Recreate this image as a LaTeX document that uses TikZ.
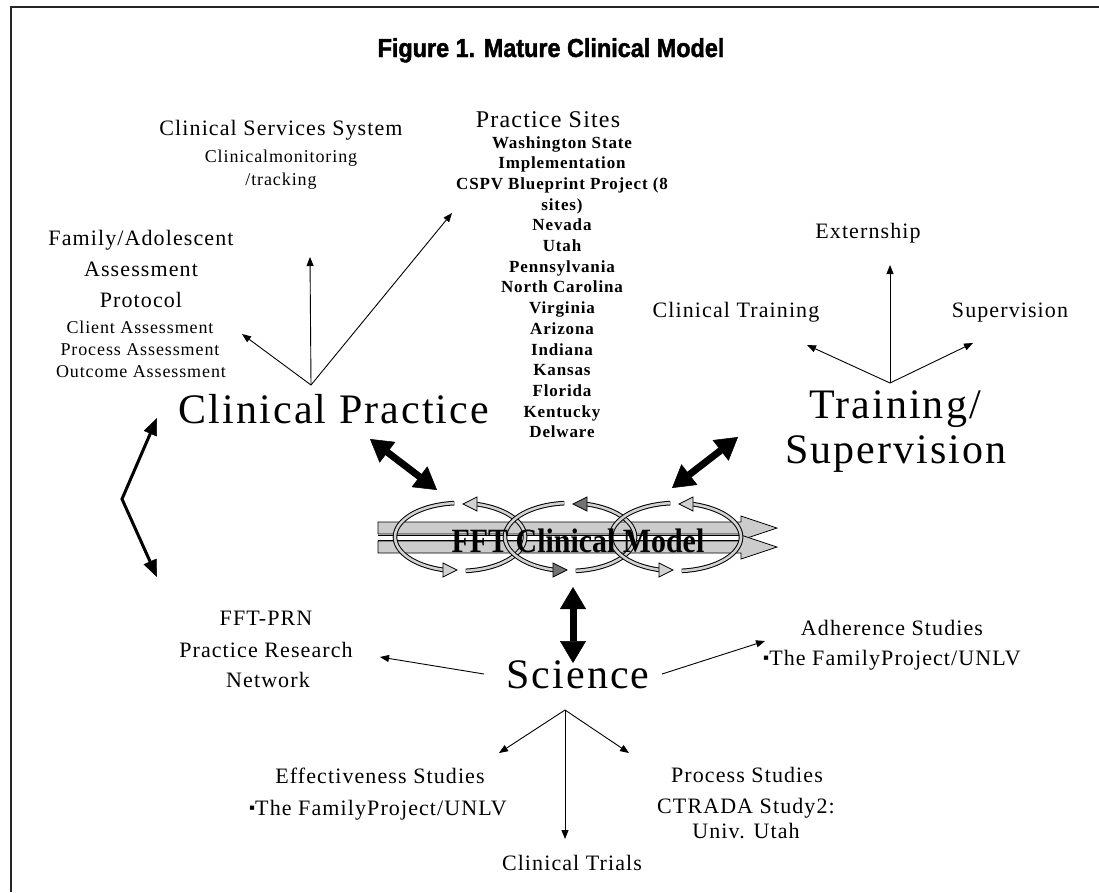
\documentclass[tikz,border=0pt]{standalone}
\usepackage{fontspec}
\setmainfont{Liberation Serif}
\newfontfamily\tf{Liberation Serif}[LetterSpace=5]
\newfontfamily\mf{Liberation Serif}[FakeStretch=0.88]
\newfontfamily\hf{Liberation Sans}[FakeBold=1.6,FakeStretch=0.9]
\usetikzlibrary{arrows.meta}
\newcommand\cyc[3]{%
  \draw[line width=2.6pt, draw=#2, preaction={draw=black,line width=4.6pt}]
    plot[domain=-95:-255,samples=40] ({#1+65*cos(\x)},{537+34*sin(\x)});
  \draw[line width=2.6pt, draw=#2, preaction={draw=black,line width=4.6pt}]
    plot[domain=85:-77,samples=40] ({#1+65*cos(\x)},{537+34*sin(\x)});
  \filldraw[fill=#3, draw=black, line width=0.8pt, line join=miter]
    (#1-17,563) -- (#1-3,570) -- (#1-17,577) -- cycle;
  \filldraw[fill=#3, draw=black, line width=0.8pt, line join=miter]
    (#1+17,497) -- (#1+3,504) -- (#1+17,511) -- cycle;
}
\newcommand\sqb{\raisebox{2pt}{\fontsize{17}{17}\selectfont▪}}
\begin{document}
\begin{tikzpicture}[x=1pt,y=-1pt,
  lab/.style={anchor=base,inner sep=0pt,font=\tf\fontsize{22}{26}\selectfont},
  sm/.style={anchor=base,inner sep=0pt,font=\tf\fontsize{18}{20}\selectfont},
  smb/.style={anchor=base,inner sep=0pt,font=\tf\bfseries\fontsize{17}{20}\selectfont},
  big/.style={anchor=base,inner sep=0pt,font=\tf\fontsize{42}{46}\selectfont},
  thin/.style={line width=0.9pt,-{Triangle[length=9pt,width=7pt]}},
  fat/.style={line width=7pt,{Triangle[length=22pt,width=26pt,line width=0.5pt]}-{Triangle[length=22pt,width=26pt,line width=0.5pt]}},
  mid/.style={line width=3pt,line join=miter,{Triangle[length=17pt,width=14pt,line width=0.5pt]}-{Triangle[length=17pt,width=14pt,line width=0.5pt]}}
]
\useasboundingbox (0,0) rectangle (1099,892);
\fill[white] (0,0) rectangle (1099,892);
\draw[line width=2pt, black!85] (11,892) -- (11,7) -- (1099,7);

% title
\node[anchor=base,inner sep=0pt,font=\hf\bfseries\fontsize{26}{30}\selectfont] (title) at (551,57) {Figure 1. Mature Clinical Model};

% Clinical services system
\node[lab] (css1) at (281,135) {Clinical Services System};
\node[sm] (css2) at (281,162) {Clinicalmonitoring};
\node[sm] (css3) at (281,185) {/tracking};

% Practice sites
\node[anchor=base,inner sep=0pt,font=\tf\fontsize{24}{28}\selectfont] (ps0) at (548,127) {Practice Sites};
\foreach \t [count=\i] in {Washington State,Implementation,CSPV Blueprint Project (8,sites),Nevada,Utah,Pennsylvania,North Carolina,Virginia,Arizona,Indiana,Kansas,Florida,Kentucky,Delware}
  \node[smb] (ps\i) at (562,{148+(\i-1)*20.7}) {\t};

% Family block
\node[lab] (fa1) at (141,245) {Family/Adolescent};
\node[lab] (fa2) at (141,276) {Assessment};
\node[lab] (fa3) at (141,307) {Protocol};
\node[sm] (fa4) at (140,333) {Client Assessment};
\node[sm] (fa5) at (140,355) {Process Assessment};
\node[sm] (fa6) at (141,377) {Outcome Assessment};

% Clinical practice
\node[big] (cp) at (334,423) {Clinical Practice};
\coordinate (cpApex) at (311,385);
\coordinate (cssTip) at (310,257);
\coordinate (psTip) at (452,213);
\coordinate (faTip) at (242,334);
\draw[thin] (cpApex) -- (cssTip);
\draw[thin] (cpApex) -- (psTip);
\draw[thin] (cpApex) -- (faTip);

% Training / supervision
\node[big] (tr1) at (895,418) {Training/};
\node[big] (tr2) at (896,463) {Supervision};
\node[lab] (ext) at (868,238) {Externship};
\node[lab] (ctr) at (736,317) {Clinical Training};
\node[lab] (sup) at (1010,317) {Supervision};
\coordinate (trApex) at (890,383);
\coordinate (extTip) at (890,265);
\coordinate (ctrTip) at (807,345);
\coordinate (supTip) at (973,343);
\draw[thin] (trApex) -- (extTip);
\draw[thin] (trApex) -- (ctrTip);
\draw[thin] (trApex) -- (supTip);

% Model
\filldraw[fill=black!20, draw=black, line width=0.8pt, line join=miter]
  (378,522) -- (741,522) -- (741,516) -- (777,528) -- (741,540) -- (741,534) -- (378,534) -- cycle;
\filldraw[fill=black!20, draw=black, line width=0.8pt, line join=miter]
  (378,541) -- (741,541) -- (741,535) -- (777,547) -- (741,559) -- (741,553) -- (378,553) -- cycle;
\fill[white] (378,536) rectangle (741,539.5);
\draw[line width=0.6pt] (378,535.5) -- (741,535.5) (378,540) -- (741,540);
\cyc{460}{black!18}{black!18}
\cyc{570}{black!18}{black!55}
\cyc{676}{black!18}{black!18}
\node[anchor=base,inner sep=0pt,font=\mf\bfseries\fontsize{34}{36}\selectfont] (model) at (578,552) {FFT Clinical Model};

% big arrows
\coordinate (a1) at (370,439); \coordinate (b1) at (437,490);
\coordinate (a2) at (738,437); \coordinate (b2) at (672,488);
\coordinate (a3) at (573,587); \coordinate (b3) at (573,663);
\draw[fat] (a1) -- (b1);
\draw[fat] (a2) -- (b2);
\draw[fat] (a3) -- (b3);
\coordinate (lt) at (157,418); \coordinate (lm) at (122,499); \coordinate (lb) at (157,577);
\draw[mid] (lt) -- (lm) -- (lb);

% Science
\node[big] (sci) at (578,688) {Science};
\node[lab] (prn1) at (266,625) {FFT-PRN};
\node[lab] (prn2) at (266,657) {Practice Research};
\node[lab] (prn3) at (268,687) {Network};
\node[lab] (adh1) at (892,635) {Adherence Studies};
\node[lab] (adh2) at (892,665) {\sqb The FamilyProject/UNLV};
\node[lab] (eff1) at (380,783) {Effectiveness Studies};
\node[lab] (eff2) at (378,815) {\sqb The FamilyProject/UNLV};
\node[lab] (pro1) at (747,782) {Process Studies};
\node[lab] (pro2) at (746,813) {CTRADA Study2:};
\node[lab] (pro3) at (746,838) {Univ. Utah};
\node[lab] (ctri) at (572,870) {Clinical Trials};
\coordinate (sL) at (484,674); \coordinate (prnTip) at (380,657);
\coordinate (sR) at (662,674); \coordinate (adhTip) at (765,641);
\coordinate (sApex) at (565,710);
\coordinate (effTip) at (499,753); \coordinate (proTip) at (629,753); \coordinate (ctrTip2) at (565,839);
\draw[thin] (sL) -- (prnTip);
\draw[thin] (sR) -- (adhTip);
\draw[thin] (sApex) -- (effTip);
\draw[thin] (sApex) -- (proTip);
\draw[thin] (sApex) -- (ctrTip2);
\end{tikzpicture}
\end{document}
